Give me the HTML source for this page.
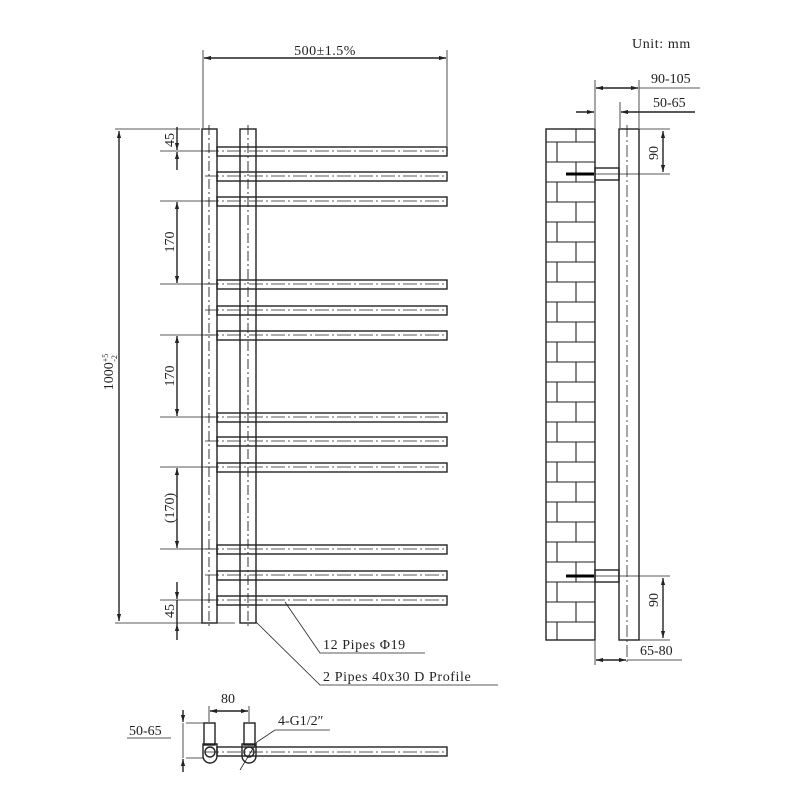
<!DOCTYPE html>
<html><head><meta charset="utf-8"><style>body{margin:0;background:#fff}svg{display:block}</style></head><body>
<svg width="800" height="800" viewBox="0 0 800 800" xmlns="http://www.w3.org/2000/svg" font-family="Liberation Serif, serif" fill="none" stroke="#222" stroke-width="1.4">
<defs><marker id="a" viewBox="0 0 10 10" refX="10" refY="5" markerWidth="9" markerHeight="5" orient="auto-start-reverse"><path d="M0,2 L10,5 L0,8z" fill="#222" stroke="none"/></marker></defs>
<rect x="202" y="129" width="15" height="494"/>
<rect x="240" y="129" width="16" height="494"/>
<g stroke-dasharray="10,3,2,3" stroke-width="0.9"><line x1="209" y1="125" x2="209" y2="628"/><line x1="248" y1="125" x2="248" y2="628"/></g>
<g>
<g transform="translate(0,151)"><rect x="217" y="-4" width="230" height="9"/><line x1="205" y1="0" x2="444" y2="0" stroke-dasharray="14,3,2,3" stroke-width="0.8"/></g>
<g transform="translate(0,176)"><rect x="217" y="-4" width="230" height="9"/><line x1="205" y1="0" x2="444" y2="0" stroke-dasharray="14,3,2,3" stroke-width="0.8"/></g>
<g transform="translate(0,201)"><rect x="217" y="-4" width="230" height="9"/><line x1="205" y1="0" x2="444" y2="0" stroke-dasharray="14,3,2,3" stroke-width="0.8"/></g>
<g transform="translate(0,284)"><rect x="217" y="-4" width="230" height="9"/><line x1="205" y1="0" x2="444" y2="0" stroke-dasharray="14,3,2,3" stroke-width="0.8"/></g>
<g transform="translate(0,310)"><rect x="217" y="-4" width="230" height="9"/><line x1="205" y1="0" x2="444" y2="0" stroke-dasharray="14,3,2,3" stroke-width="0.8"/></g>
<g transform="translate(0,335)"><rect x="217" y="-4" width="230" height="9"/><line x1="205" y1="0" x2="444" y2="0" stroke-dasharray="14,3,2,3" stroke-width="0.8"/></g>
<g transform="translate(0,417)"><rect x="217" y="-4" width="230" height="9"/><line x1="205" y1="0" x2="444" y2="0" stroke-dasharray="14,3,2,3" stroke-width="0.8"/></g>
<g transform="translate(0,441)"><rect x="217" y="-4" width="230" height="9"/><line x1="205" y1="0" x2="444" y2="0" stroke-dasharray="14,3,2,3" stroke-width="0.8"/></g>
<g transform="translate(0,467)"><rect x="217" y="-4" width="230" height="9"/><line x1="205" y1="0" x2="444" y2="0" stroke-dasharray="14,3,2,3" stroke-width="0.8"/></g>
<g transform="translate(0,549)"><rect x="217" y="-4" width="230" height="9"/><line x1="205" y1="0" x2="444" y2="0" stroke-dasharray="14,3,2,3" stroke-width="0.8"/></g>
<g transform="translate(0,575)"><rect x="217" y="-4" width="230" height="9"/><line x1="205" y1="0" x2="444" y2="0" stroke-dasharray="14,3,2,3" stroke-width="0.8"/></g>
<g transform="translate(0,600)"><rect x="217" y="-4" width="230" height="9"/><line x1="205" y1="0" x2="444" y2="0" stroke-dasharray="14,3,2,3" stroke-width="0.8"/></g>
</g>
<line x1="203" y1="50" x2="203" y2="128" stroke-width="0.8"/><line x1="447" y1="50" x2="447" y2="146" stroke-width="0.8"/>
<line x1="204" y1="58" x2="446" y2="58" marker-start="url(#a)" marker-end="url(#a)"/>
<text x="325" y="55" font-size="14" fill="#222" stroke="none" text-anchor="middle" letter-spacing="0.5">500±1.5%</text>
<g stroke-width="0.8"><line x1="115" y1="129" x2="200" y2="129"/><line x1="115" y1="623" x2="235" y2="623"/></g>
<line x1="119" y1="131" x2="119" y2="621" marker-start="url(#a)" marker-end="url(#a)"/>
<text transform="translate(113,372) rotate(-90)" font-size="14" fill="#222" stroke="none" text-anchor="middle">1000<tspan font-size="8" dy="-5">+5</tspan><tspan font-size="8" dx="-8" dy="9">-2</tspan></text>
<g stroke-width="0.8">
<line x1="160" y1="151" x2="215" y2="151"/><line x1="160" y1="201" x2="215" y2="201"/><line x1="160" y1="284" x2="215" y2="284"/>
<line x1="160" y1="335" x2="215" y2="335"/><line x1="160" y1="417" x2="215" y2="417"/><line x1="160" y1="467" x2="215" y2="467"/>
<line x1="160" y1="549" x2="215" y2="549"/><line x1="160" y1="600" x2="215" y2="600"/>
</g>
<line x1="177" y1="127" x2="177" y2="150" marker-end="url(#a)"/><line x1="177" y1="152" x2="177" y2="170" marker-start="url(#a)"/>
<line x1="177" y1="202" x2="177" y2="283" marker-start="url(#a)" marker-end="url(#a)"/>
<line x1="177" y1="336" x2="177" y2="416" marker-start="url(#a)" marker-end="url(#a)"/>
<line x1="177" y1="468" x2="177" y2="548" marker-start="url(#a)" marker-end="url(#a)"/>
<line x1="177" y1="582" x2="177" y2="599" marker-end="url(#a)"/><line x1="177" y1="624" x2="177" y2="640" marker-start="url(#a)"/><line x1="177" y1="600" x2="177" y2="624"/>
<g fill="#222" stroke="none" font-size="14" text-anchor="middle">
<text transform="translate(174,140) rotate(-90)">45</text>
<text transform="translate(174,242) rotate(-90)">170</text>
<text transform="translate(174,376) rotate(-90)">170</text>
<text transform="translate(174,508) rotate(-90)">(170)</text>
<text transform="translate(174,611) rotate(-90)">45</text>
</g>
<g stroke-width="0.8"><polyline points="285,602 320,653 425,653"/><polyline points="256,622 320,685 498,685"/></g>
<g fill="#222" stroke="none" font-size="14" letter-spacing="0.6"><text x="323" y="649">12 Pipes Φ19</text><text x="323" y="681">2 Pipes 40x30 D Profile</text>
<text x="632" y="48">Unit: mm</text></g>
<rect x="546" y="129" width="49" height="511"/>
<g stroke-width="1.1">
<line x1="546" y1="142" x2="595" y2="142"/><line x1="576" y1="129" x2="576" y2="142"/>
<line x1="546" y1="162" x2="595" y2="162"/><line x1="557" y1="142" x2="557" y2="162"/>
<line x1="546" y1="182" x2="595" y2="182"/><line x1="576" y1="162" x2="576" y2="182"/>
<line x1="546" y1="202" x2="595" y2="202"/><line x1="557" y1="182" x2="557" y2="202"/>
<line x1="546" y1="222" x2="595" y2="222"/><line x1="576" y1="202" x2="576" y2="222"/>
<line x1="546" y1="242" x2="595" y2="242"/><line x1="557" y1="222" x2="557" y2="242"/>
<line x1="546" y1="262" x2="595" y2="262"/><line x1="576" y1="242" x2="576" y2="262"/>
<line x1="546" y1="282" x2="595" y2="282"/><line x1="557" y1="262" x2="557" y2="282"/>
<line x1="546" y1="302" x2="595" y2="302"/><line x1="576" y1="282" x2="576" y2="302"/>
<line x1="546" y1="322" x2="595" y2="322"/><line x1="557" y1="302" x2="557" y2="322"/>
<line x1="546" y1="342" x2="595" y2="342"/><line x1="576" y1="322" x2="576" y2="342"/>
<line x1="546" y1="362" x2="595" y2="362"/><line x1="557" y1="342" x2="557" y2="362"/>
<line x1="546" y1="382" x2="595" y2="382"/><line x1="576" y1="362" x2="576" y2="382"/>
<line x1="546" y1="402" x2="595" y2="402"/><line x1="557" y1="382" x2="557" y2="402"/>
<line x1="546" y1="422" x2="595" y2="422"/><line x1="576" y1="402" x2="576" y2="422"/>
<line x1="546" y1="442" x2="595" y2="442"/><line x1="557" y1="422" x2="557" y2="442"/>
<line x1="546" y1="462" x2="595" y2="462"/><line x1="576" y1="442" x2="576" y2="462"/>
<line x1="546" y1="482" x2="595" y2="482"/><line x1="557" y1="462" x2="557" y2="482"/>
<line x1="546" y1="502" x2="595" y2="502"/><line x1="576" y1="482" x2="576" y2="502"/>
<line x1="546" y1="522" x2="595" y2="522"/><line x1="557" y1="502" x2="557" y2="522"/>
<line x1="546" y1="542" x2="595" y2="542"/><line x1="576" y1="522" x2="576" y2="542"/>
<line x1="546" y1="562" x2="595" y2="562"/><line x1="557" y1="542" x2="557" y2="562"/>
<line x1="546" y1="582" x2="595" y2="582"/><line x1="576" y1="562" x2="576" y2="582"/>
<line x1="546" y1="602" x2="595" y2="602"/><line x1="557" y1="582" x2="557" y2="602"/>
<line x1="546" y1="622" x2="595" y2="622"/><line x1="576" y1="602" x2="576" y2="622"/>
<line x1="557" y1="622" x2="557" y2="640"/>
</g>
<rect x="619" y="129" width="20" height="511"/>
<line x1="627" y1="125" x2="627" y2="665" stroke-dasharray="12,3,2,3" stroke-width="0.8"/>
<rect x="595" y="168" width="24" height="12"/><rect x="595" y="570" width="24" height="12"/>
<g stroke="#000" stroke-width="3"><line x1="566" y1="174" x2="594" y2="174"/><line x1="566" y1="576" x2="594" y2="576"/></g>
<g stroke-width="0.8"><line x1="595" y1="174" x2="670" y2="174"/><line x1="595" y1="576" x2="670" y2="576"/>
<line x1="639" y1="129" x2="670" y2="129"/><line x1="639" y1="640" x2="670" y2="640"/>
<line x1="595" y1="80" x2="595" y2="128"/><line x1="639" y1="80" x2="639" y2="128"/><line x1="620" y1="102" x2="620" y2="128"/>
<line x1="595" y1="641" x2="595" y2="665"/></g>
<line x1="663" y1="131" x2="663" y2="172" marker-start="url(#a)" marker-end="url(#a)"/>
<line x1="663" y1="578" x2="663" y2="638" marker-start="url(#a)" marker-end="url(#a)"/>
<line x1="596" y1="88" x2="638" y2="88" marker-start="url(#a)" marker-end="url(#a)"/><line x1="639" y1="88" x2="700" y2="88" stroke-width="0.8"/>
<line x1="576" y1="112" x2="594" y2="112" marker-end="url(#a)"/><line x1="621" y1="112" x2="695" y2="112" marker-start="url(#a)"/>
<line x1="596" y1="660" x2="626" y2="660" marker-start="url(#a)" marker-end="url(#a)"/><line x1="627" y1="660" x2="682" y2="660" stroke-width="0.8"/>
<g fill="#222" stroke="none" font-size="14"><text x="651" y="83">90-105</text><text x="653" y="107">50-65</text><text x="640" y="655">65-80</text>
<text transform="translate(658,153) rotate(-90)" text-anchor="middle">90</text><text transform="translate(658,600) rotate(-90)" text-anchor="middle">90</text></g>
<rect x="217" y="747" width="230" height="9"/>
<line x1="205" y1="752" x2="444" y2="752" stroke-dasharray="14,3,2,3" stroke-width="0.8"/>
<rect x="204" y="723" width="11" height="22"/><rect x="244" y="723" width="11" height="22"/>
<path d="M203,744 h14 v12 a7,7 0 0 1 -14,0z"/><path d="M242,744 h14 v12 a7,7 0 0 1 -14,0z"/>
<circle cx="210" cy="752" r="5"/><circle cx="249" cy="752" r="5"/>
<g stroke-width="0.8"><line x1="209" y1="706" x2="209" y2="722"/><line x1="249" y1="706" x2="249" y2="722"/>
<line x1="186" y1="723" x2="204" y2="723"/><line x1="186" y1="758" x2="204" y2="758"/>
<polyline points="240,770 257,742 275,730 330,730"/><line x1="127" y1="738" x2="171" y2="738"/></g>
<line x1="210" y1="711" x2="248" y2="711" marker-start="url(#a)" marker-end="url(#a)"/>
<line x1="183" y1="710" x2="183" y2="722" marker-end="url(#a)"/><line x1="183" y1="772" x2="183" y2="759" marker-end="url(#a)"/><line x1="183" y1="723" x2="183" y2="758" stroke-width="0.8"/>
<g fill="#222" stroke="none" font-size="14"><text x="221" y="703">80</text><text x="129" y="735">50-65</text><text x="278" y="725">4-G1/2″</text></g>
</svg>
</body></html>
